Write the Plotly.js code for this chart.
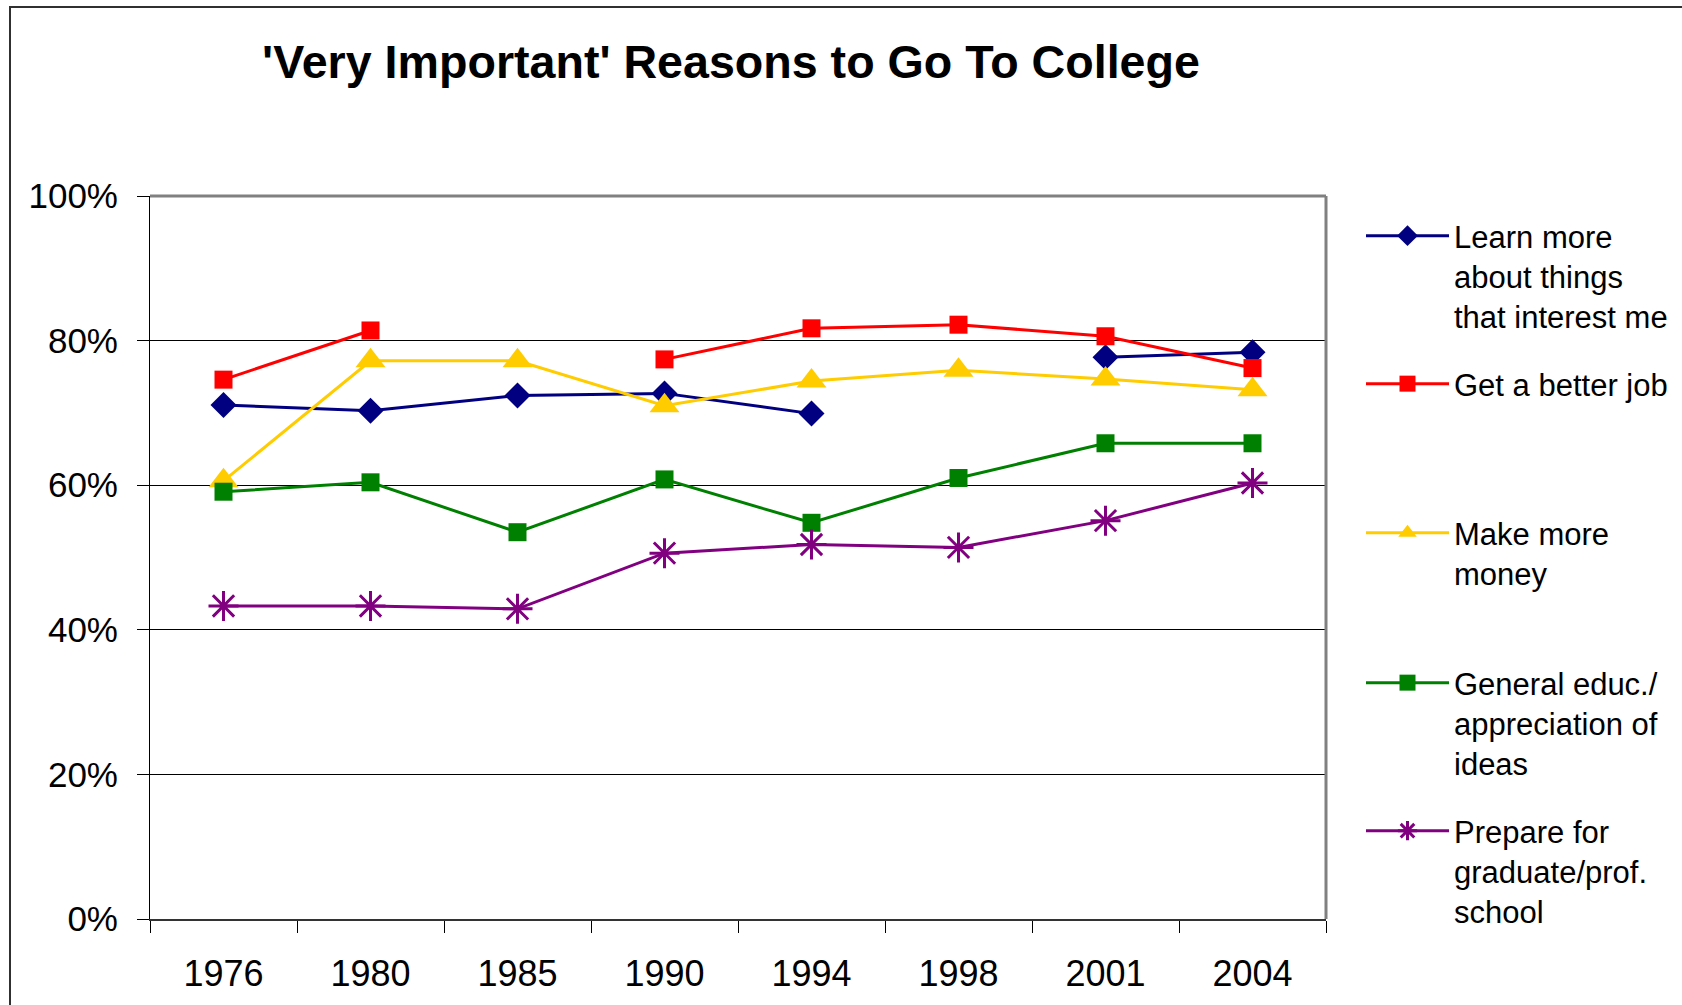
<!DOCTYPE html>
<html>
<head>
<meta charset="utf-8">
<script src="https://cdn.plot.ly/plotly-3.0.1.min.js"></script>
<style>
  html, body { margin: 0; padding: 0; background: #ffffff; }
  #chart { width: 1682px; height: 1005px; }
</style>
</head>
<body>
<div id="chart"></div>
<script>
// ---- data (percent of respondents) ----
const years = ['1976', '1980', '1985', '1990', '1994', '1998', '2001', '2004'];
const learnMore   = [71.1, 70.3, 72.4, 72.7, 69.9, null, 77.7, 78.4];
const betterJob   = [74.6, 81.4, null, 77.4, 81.7, 82.2, 80.6, 76.2];
const moreMoney   = [60.6, 77.2, 77.2, 71.0, 74.4, 75.9, 74.7, 73.2];
const generalEduc = [59.1, 60.4, 53.5, 60.8, 54.8, 61.0, 65.8, 65.8];
const gradSchool  = [43.3, 43.3, 42.9, 50.6, 51.8, 51.4, 55.1, 60.3];

const seriesNames = [
  'Learn more<br>about things<br>that interest me',
  'Get a better job',
  'Make more<br>money',
  'General educ./<br>appreciation of<br>ideas',
  'Prepare for<br>graduate/prof.<br>school'
];
const yTicks = [0, 20, 40, 60, 80, 100];
const yTickLabels = ['0%', '20%', '40%', '60%', '80%', '100%'];

const FONT = "'Liberation Sans', Arial, Helvetica, sans-serif";

const traces = [
  { y: learnMore, name: seriesNames[0], legend: 'legend',
    line: { color: '#000080', width: 3 },
    marker: { symbol: 'diamond', size: 20, color: '#000080' } },
  { y: betterJob, name: seriesNames[1], legend: 'legend2',
    line: { color: '#FF0000', width: 3 },
    marker: { symbol: 'square', size: 18, color: '#FF0000' } },
  { y: moreMoney, name: seriesNames[2], legend: 'legend3',
    line: { color: '#FFCC00', width: 3 },
    marker: { symbol: 'triangle-up', size: 26, color: '#FFCC00' } },
  { y: generalEduc, name: seriesNames[3], legend: 'legend4',
    line: { color: '#008000', width: 3 },
    marker: { symbol: 'square', size: 18, color: '#008000' } },
  { y: gradSchool, name: seriesNames[4], legend: 'legend5',
    line: { color: '#800080', width: 3 },
    marker: { symbol: 'asterisk-open', size: 25, color: '#800080',
              line: { color: '#800080', width: 3 } } }
].map(t => Object.assign({
  type: 'scatter', mode: 'lines+markers', x: years,
  connectgaps: false, hoverinfo: 'x+y'
}, t));

const M = { l: 150, r: 356, t: 196, b: 86 };
const W = 1682, H = 1005;
const plotW = W - M.l - M.r, plotH = H - M.t - M.b;
const px2paperX = px => (px - M.l) / plotW;
const px2paperY = py => 1 - (py - M.t) / plotH;

const legendTops = [209, 357, 506, 656, 804];
function mkLegend(topPx) {
  return {
    x: px2paperX(1361), xanchor: 'left',
    y: px2paperY(topPx), yanchor: 'top',
    font: { family: FONT, size: 31, color: '#000' },
    itemwidth: 83, valign: 'top',
    bgcolor: 'rgba(0,0,0,0)', borderwidth: 0
  };
}

const layout = {
  width: W, height: H,
  margin: Object.assign({ autoexpand: false, pad: 0 }, M),
  paper_bgcolor: '#ffffff', plot_bgcolor: '#ffffff',
  font: { family: FONT, color: '#000' },
  title: {
    text: "'Very Important' Reasons to Go To College",
    font: { family: FONT, size: 46.6, color: '#000', weight: 'bold' },
    xref: 'container', yref: 'container',
    x: 731 / W, xanchor: 'center',
    y: 1 - 62 / H, yanchor: 'middle'
  },
  showlegend: true,
  legend: mkLegend(legendTops[0]),
  legend2: mkLegend(legendTops[1]),
  legend3: mkLegend(legendTops[2]),
  legend4: mkLegend(legendTops[3]),
  legend5: mkLegend(legendTops[4]),
  xaxis: {
    type: 'category', categoryorder: 'array', categoryarray: years,
    range: [-0.5, years.length - 0.5],
    tickson: 'boundaries', ticks: 'outside', ticklen: 12, tickwidth: 1, tickcolor: '#000',
    showgrid: false, zeroline: false,
    showline: true, linecolor: '#333', linewidth: 2,
    tickfont: { family: FONT, size: 36, color: '#000' },
    ticklabelstandoff: 22
  },
  yaxis: {
    range: [0, 100], tickmode: 'array', tickvals: yTicks, ticktext: yTickLabels,
    ticks: 'outside', ticklen: 12, tickwidth: 1, tickcolor: '#000',
    showgrid: true, gridcolor: '#000', gridwidth: 1,
    zeroline: false,
    showline: true, linecolor: '#000', linewidth: 1,
    tickfont: { family: FONT, size: 35, color: '#000' },
    ticklabelstandoff: 12
  },
  shapes: [
    { type: 'line', xref: 'paper', yref: 'paper', x0: 0, x1: 1, y0: 1, y1: 1,
      line: { color: '#808080', width: 3 }, layer: 'above' },
    { type: 'line', xref: 'paper', yref: 'paper', x0: 1, x1: 1, y0: 0, y1: 1,
      line: { color: '#808080', width: 3 }, layer: 'above' },
    { type: 'rect', xref: 'paper', yref: 'paper',
      x0: px2paperX(10), x1: px2paperX(W + 40), y0: px2paperY(H + 40), y1: px2paperY(7),
      line: { color: '#303030', width: 2 }, layer: 'below' }
  ]
};

Plotly.newPlot('chart', traces, layout, { displayModeBar: false, staticPlot: false });
</script>
</body>
</html>
